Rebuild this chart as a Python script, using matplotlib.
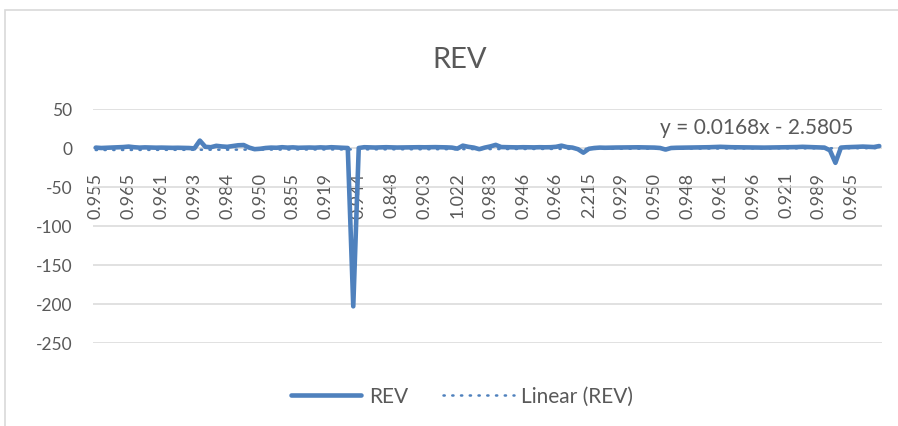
import numpy as np
import matplotlib
matplotlib.use("Agg")
import matplotlib.pyplot as plt
from matplotlib.patches import Rectangle

# ---------------- data ----------------
category_labels = ["0.955", "0.965", "0.961", "0.993", "0.984", "0.950", "0.855", "0.919",
                   "0.944", "0.848", "0.903", "1.022", "0.983", "0.946", "0.966", "2.215",
                   "0.929", "0.950", "0.948", "0.961", "0.996", "0.921", "0.989", "0.965"]
label_every = 6

rev_values = [
    0.5, 0.0, 0.3, 0.5, 0.8, 1.2, 1.8, 1.0, 0.5, 0.8,      # 0-9
    0.6, 0.4, 0.5, 0.3, 0.2, 0.3, 0.1, 0.0, -0.5, 9.5,     # 10-19
    1.5, 1.0, 2.8, 2.0, 1.5, 2.5, 3.5, 3.8, 0.5, -1.5,     # 20-29
    -1.0, 0.0, 0.5, 0.3, 1.0, 0.5, 0.8, 0.3, 0.5, 0.6,     # 30-39
    0.4, 0.8, 0.5, 1.0, 0.6, 0.3, 0.0, -203.0, 0.0, 1.0,   # 40-49
    0.8, 0.6, 0.8, 1.0, 0.8, 0.6, 0.7, 0.8, 0.9, 1.0,      # 50-59
    0.9, 1.0, 1.1, 1.0, 0.8, 0.5, -0.8, 3.0, 1.5, 0.5,     # 60-69
    -1.5, 0.5, 2.0, 4.0, 1.2, 1.0, 0.9, 0.8, 1.0, 0.9,     # 70-79
    0.8, 1.0, 0.9, 1.0, 1.5, 3.0, 1.2, 0.5, -1.5, -6.0,    # 80-89
    -1.0, 0.0, 0.5, 0.3, 0.5, 0.6, 0.7, 0.8, 0.8, 0.9,     # 90-99
    0.8, 0.6, 0.5, 0.0, -2.0, 0.0, 0.3, 0.4, 0.5, 0.6,     # 100-109
    0.7, 0.8, 1.0, 1.2, 1.5, 1.2, 1.0, 0.9, 0.8, 0.7,      # 110-119
    0.6, 0.5, 0.5, 0.6, 0.7, 0.8, 0.9, 1.0, 1.2, 1.5,      # 120-129
    1.2, 1.0, 0.8, 0.5, -3.0, -19.0, 0.5, 1.0, 1.2, 1.5,   # 130-139
    1.8, 1.5, 1.2, 2.5                                      # 140-143
]

trend_slope = 0.0168
trend_intercept = -2.5805
trend_label = "y = 0.0168x - 2.5805"

y_ticks = [50, 0, -50, -100, -150, -200, -250]

# ---------------- style ----------------
W, H = 898, 427
DPI = 100
blue = "#4F81BD"
text_gray = "#595959"
grid_gray = "#D9D9D9"
font = ["Lato", "DejaVu Sans"]
plt.rcParams["font.family"] = font

fig = plt.figure(figsize=(W / DPI, H / DPI), dpi=DPI)
fig.patch.set_facecolor("white")

# chart border
fig.add_artist(Rectangle((5 / W, -0.1), 1.2, 1 - 11 / H + 0.1, transform=fig.transFigure,
                         fill=False, edgecolor="#D9D9D9", linewidth=1.2))

left, right, top, bottom = 93, 882, 110, 344
ax = fig.add_axes([left / W, 1 - bottom / H, (right - left) / W, (bottom - top) / H])

n = len(rev_values)
x = np.arange(n)
ax.plot(x, rev_values, color=blue, linewidth=3.3, solid_joinstyle="round",
        solid_capstyle="round", label="REV", zorder=3)

xt = np.arange(1, n + 1)
trend = trend_slope * xt + trend_intercept
ax.plot(x, trend, color=blue, linewidth=1.8, linestyle=(0, (0.5, 3.0)),
        dash_capstyle="round", label="Linear (REV)", zorder=4)

ax.set_xlim(-0.5, n - 0.5)
ax.set_ylim(-250, 50)
ax.set_yticks(y_ticks)
ax.set_yticklabels([str(v) for v in y_ticks])
ax.yaxis.grid(True, color=grid_gray, linewidth=1.1)
ax.set_axisbelow(True)

ax.spines["bottom"].set_position(("data", 0))
for s in ax.spines.values():
    s.set_visible(False)
tick_pos = np.arange(0, n, label_every)[:len(category_labels)]
ax.set_xticks(tick_pos)
ax.set_xticklabels(category_labels)
ax.tick_params(axis="x", length=0, pad=17, labelsize=13, labelcolor=text_gray,
               labelrotation=90)
for t in ax.get_xticklabels():
    t.set_va("top")
    t.set_ha("center")
ax.tick_params(axis="y", length=0, pad=15, labelsize=12.5, labelcolor=text_gray)

fig.text(460 / W, 1 - 60 / H, "REV", ha="center", va="center", fontsize=21, color=text_gray)
ax.text(757 / W, 1 - 128 / H, trend_label, transform=fig.transFigure, ha="center",
        va="center", fontsize=15, color=text_gray)

leg = fig.legend(loc="center", bbox_to_anchor=(462 / W, 1 - 397 / H), ncol=2, frameon=False,
                 fontsize=15, handlelength=3.4, columnspacing=1.7, handletextpad=0.35)
for t in leg.get_texts():
    t.set_color(text_gray)

fig.savefig("out.png", dpi=DPI, facecolor="white")
